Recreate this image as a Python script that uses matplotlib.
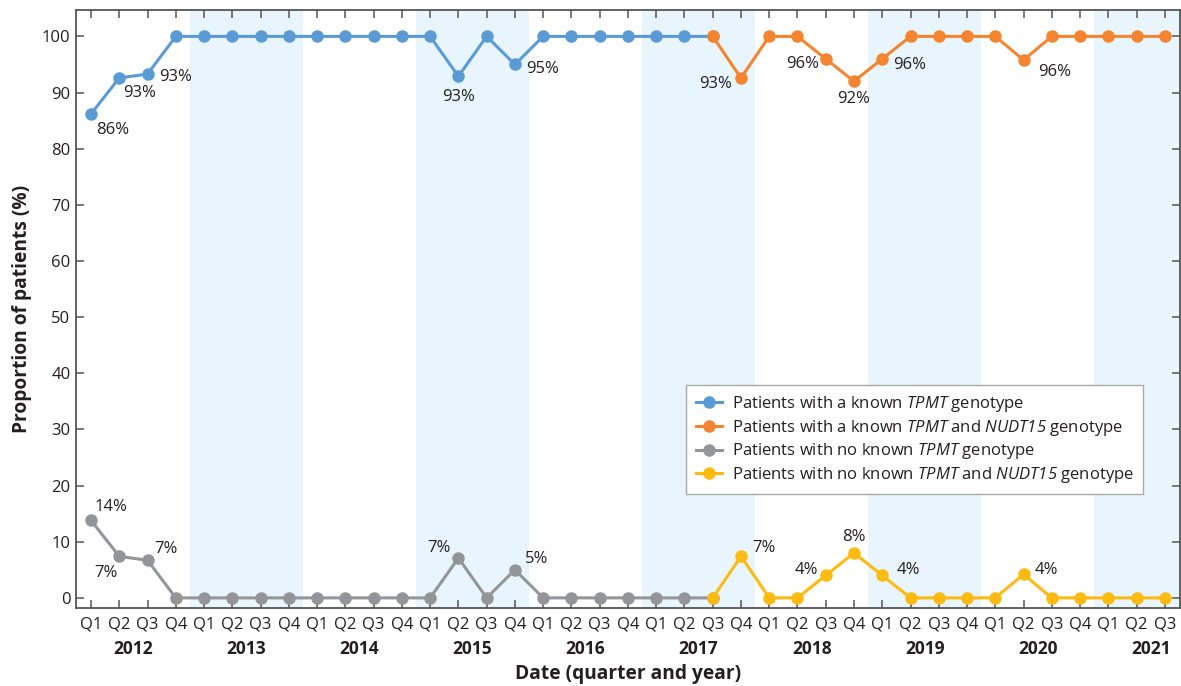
import numpy as np
import matplotlib
matplotlib.use("Agg")
import matplotlib.pyplot as plt
import matplotlib.transforms as mtransforms

plt.rcParams['font.family'] = ['Open Sans', 'DejaVu Sans']
plt.rcParams['mathtext.fontset'] = 'custom'
plt.rcParams['mathtext.it'] = 'Open Sans:italic'
# цифры в mathtext берутся из rm, поэтому rm тоже курсивный
plt.rcParams['mathtext.rm'] = 'Open Sans:italic'

# Данные: кварталы 2012 Q1 .. 2021 Q3
years = [2012, 2013, 2014, 2015, 2016, 2017, 2018, 2019, 2020, 2021]
quarters_per_year = [4, 4, 4, 4, 4, 4, 4, 4, 4, 3]
quarter_names = ['Q1', 'Q2', 'Q3', 'Q4']

# 2012 Q1 .. 2017 Q2
known_tpmt = [86.2, 92.6, 93.3, 100,
              100, 100, 100, 100,
              100, 100, 100, 100,
              100, 92.9, 100, 95.0,
              100, 100, 100, 100,
              100, 100]
no_tpmt = [13.8, 7.4, 6.7, 0,
           0, 0, 0, 0,
           0, 0, 0, 0,
           0, 7.1, 0, 5.0,
           0, 0, 0, 0,
           0, 0]
# 2017 Q3 .. 2021 Q3
known_both = [100, 92.6,
              100, 100, 96.0, 92.0,
              96.0, 100, 100, 100,
              100, 95.8, 100, 100,
              100, 100, 100]
no_both = [0, 7.4,
           0, 0, 4.0, 8.0,
           4.0, 0, 0, 0,
           0, 4.2, 0, 0,
           0, 0, 0]

# подписи значений: индекс -> (dx, dy, ha) в пикселях
lab_known = {0: (5, -16, 'left'), 1: (4, -15, 'left'), 2: (12, -3, 'left'),
             13: (0, -21, 'center'), 15: (11, -5, 'left'),
             23: (-9, -6, 'right'), 26: (-7, -5, 'right'), 27: (0, -18, 'center'),
             28: (11, -6, 'left'), 33: (15, -12, 'left')}
lab_no = {0: (3, 13, 'left'), 1: (-2, -17, 'right'), 2: (7, 11, 'left'),
          13: (-8, 10, 'right'), 15: (10, 11, 'left'),
          23: (11, 8, 'left'), 26: (-8, 5, 'right'), 27: (0, 16, 'center'),
          28: (14, 5, 'left'), 33: (11, 4, 'left')}

c_blue = '#5b9bd5'
c_orange = '#f58430'
c_gray = '#939598'
c_yellow = '#fdbb12'
c_shade = '#e8f5fc'
c_text = '#231f20'
c_axis = '#555555'

n = sum(quarters_per_year)
x = np.arange(n)
split = len(known_tpmt)
all_known = known_tpmt + known_both
all_no = no_tpmt + no_both

fig = plt.figure(figsize=(11.81, 6.86), dpi=100)
ax = fig.add_axes([0.0644, 0.1137, 0.9346, 0.8717])

# полосы для нечетных лет
start = 0
year_starts = []
for i, q in enumerate(quarters_per_year):
    year_starts.append(start)
    if i % 2 == 1:
        ax.axvspan(start - 0.5, start + 3.5, color=c_shade, lw=0, zorder=0)
    start += q

lw = 2.2
ms = 8
ax.plot(x[:split + 1], all_known[:split + 1], '-o', color=c_blue, lw=lw, ms=ms, zorder=3,
        label=r'Patients with a known $\mathit{TPMT}$ genotype')
ax.plot(x[split:], known_both, '-o', color=c_orange, lw=lw, ms=ms, zorder=4,
        label=r'Patients with a known $\mathit{TPMT}$ and $\mathit{NUDT15}$ genotype')
ax.plot(x[:split + 1], all_no[:split + 1], '-o', color=c_gray, lw=lw, ms=ms, zorder=3,
        label=r'Patients with no known $\mathit{TPMT}$ genotype')
ax.plot(x[split:], no_both, '-o', color=c_yellow, lw=lw, ms=ms, zorder=4,
        label=r'Patients with no known $\mathit{TPMT}$ and $\mathit{NUDT15}$ genotype')

for idx, (dx, dy, ha) in lab_known.items():
    ax.annotate(f'{round(all_known[idx])}%', (x[idx], all_known[idx]), xytext=(dx, dy),
                textcoords='offset pixels', ha=ha, va='center', fontsize=12, color=c_text)
for idx, (dx, dy, ha) in lab_no.items():
    ax.annotate(f'{round(all_no[idx])}%', (x[idx], all_no[idx]), xytext=(dx, dy),
                textcoords='offset pixels', ha=ha, va='center', fontsize=12, color=c_text)

ax.set_xlim(-0.53, 38.53)
ax.set_ylim(-1.8, 104.7)
ax.set_yticks(np.arange(0, 101, 10))
qlabels = []
for q in quarters_per_year:
    qlabels += quarter_names[:q]
ax.set_xticks(x)
ax.set_xticklabels(qlabels)

for s in ax.spines.values():
    s.set_color(c_axis)
    s.set_linewidth(1.3)
ax.tick_params(direction='in', length=6, width=1.1, color=c_axis, labelcolor=c_text,
               labelsize=12, top=True, right=True)
ax.tick_params(axis='x', pad=6)
ax.tick_params(axis='y', pad=4)

trans = mtransforms.blended_transform_factory(ax.transData, ax.transAxes)
for yr, st in zip(years, year_starts):
    ax.text(st + 1.5, -0.068, str(yr), transform=trans, ha='center', va='center',
            fontsize=12.5, fontweight='bold', color=c_text)

ax.set_xlabel('Date (quarter and year)', fontsize=13.8, fontweight='bold', color=c_text, labelpad=23)
ax.set_ylabel('Proportion of patients (%)', fontsize=13.8, fontweight='bold', color=c_text, labelpad=7)

leg = ax.legend(loc='upper left', bbox_to_anchor=(0.553, 0.373), borderaxespad=0,
                fancybox=False, edgecolor='#aaaaaa', fontsize=12, handlelength=1.6,
                labelspacing=0.22, borderpad=0.55, handletextpad=0.6, framealpha=1)
leg.get_frame().set_linewidth(1.0)
for t in leg.get_texts():
    t.set_color(c_text)

fig.savefig('out.png', dpi=100)
